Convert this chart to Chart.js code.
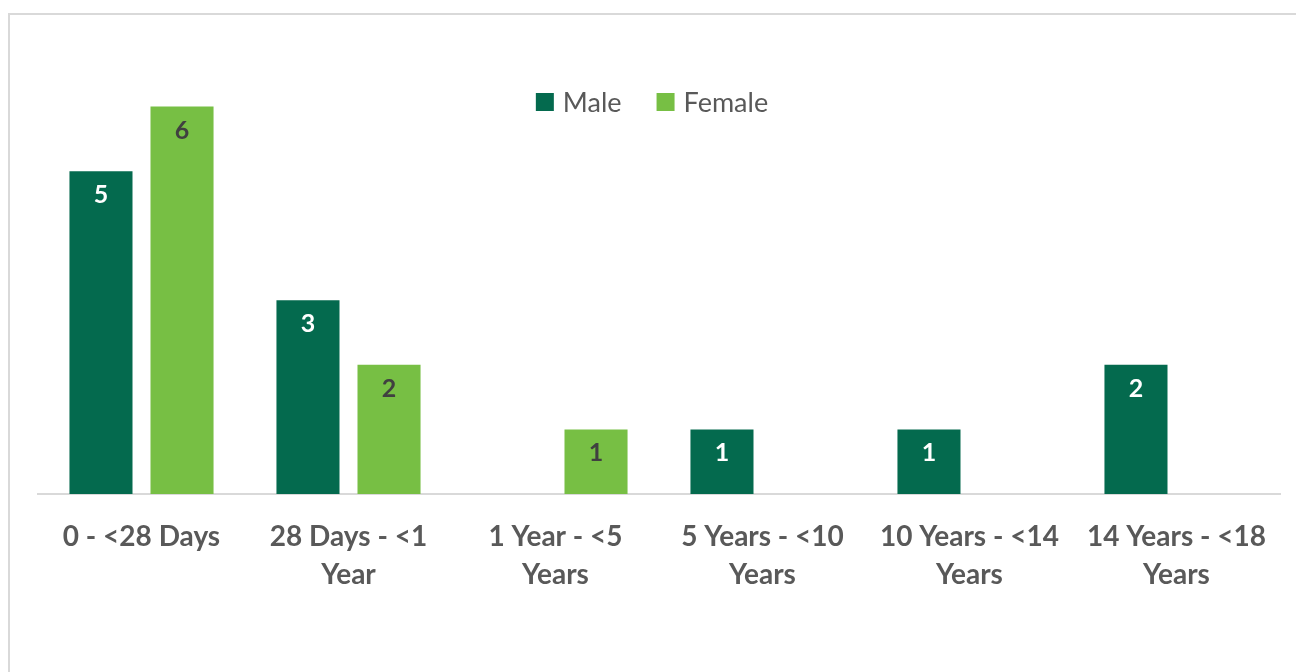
<!DOCTYPE html>
<html>
<head>
<meta charset="utf-8">
<script src="https://cdn.jsdelivr.net/npm/chart.js@4/dist/chart.umd.min.js"></script>
<style>
  body { margin: 0; background: #fff; overflow: hidden; }
  #frame { position: absolute; left: 8px; top: 13px; width: 1400px; height: 800px; border: 2px solid #d9d9d9; }
  #wrap { position: absolute; left: 0; top: 0; width: 1296px; height: 672px; }
</style>
</head>
<body>
<div id="frame"></div>
<div id="wrap"><canvas id="ageChart" width="1296" height="672"></canvas></div>
<script>
const categories = [
    ["0 - <28 Days"],
    ["28 Days - <1", "Year"],
    ["1 Year - <5", "Years"],
    ["5 Years - <10", "Years"],
    ["10 Years - <14", "Years"],
    ["14 Years - <18", "Years"],
];
const maleValues = [5, 3, 0, 1, 1, 2];
const femaleValues = [6, 2, 1, 0, 0, 0];

const MALE_COLOR = "#046A4E";
const FEMALE_COLOR = "#77BF44";
const TEXT_GREY = "#595959";

// value labels inside the top of each bar
const barLabels = {
    id: "barLabels",
    afterDatasetsDraw(chart) {
        const ctx = chart.ctx;
        ctx.save();
        ctx.font = "bold 25px Lato";
        ctx.textAlign = "center";
        ctx.textBaseline = "middle";
        chart.data.datasets.forEach((ds, i) => {
            const meta = chart.getDatasetMeta(i);
            meta.data.forEach((bar, j) => {
                const v = ds.data[j];
                if (!v) return;
                ctx.fillStyle = ds.labelColor;
                ctx.fillText(String(v), bar.x, bar.y + 24);
            });
        });
        ctx.restore();
    },
};

// legend drawn over the plot, like the original
const overlayLegend = {
    id: "overlayLegend",
    afterDraw(chart) {
        const ctx = chart.ctx;
        const box = 18, gap = 9, spacing = 35, cy = 102;
        ctx.save();
        ctx.font = "27px Lato";
        ctx.textBaseline = "middle";
        const items = chart.data.datasets.map((ds) => ({
            text: ds.label,
            color: ds.backgroundColor,
            w: box + gap + ctx.measureText(ds.label).width,
        }));
        const total = items.reduce((s, it) => s + it.w, 0) + spacing * (items.length - 1);
        let x = chart.width / 2 + 4 - total / 2;
        items.forEach((it) => {
            ctx.fillStyle = it.color;
            ctx.fillRect(x, cy - box / 2, box, box);
            ctx.fillStyle = TEXT_GREY;
            ctx.fillText(it.text, x + box + gap, cy + 1);
            x += it.w + spacing;
        });
        ctx.restore();
    },
};

const ctx = document.getElementById("ageChart").getContext("2d");
const chart = new Chart(ctx, {
    type: "bar",
    data: {
        labels: categories,
        datasets: [
            {
                label: "Male",
                data: maleValues,
                backgroundColor: MALE_COLOR,
                labelColor: "#ffffff",
            },
            {
                label: "Female",
                data: femaleValues,
                backgroundColor: FEMALE_COLOR,
                labelColor: "#404040",
            },
        ],
    },
    options: {
        responsive: false,
        animation: false,
        categoryPercentage: 0.783,
        barPercentage: 0.778,
        layout: {
            padding: { left: 38, right: 16, top: 42, bottom: 0 },
        },
        scales: {
            y: {
                display: false,
                min: 0,
                max: 7,
            },
            x: {
                grid: { display: false, drawTicks: false },
                border: { display: true, color: "#d9d9d9", width: 2 },
                ticks: {
                    maxRotation: 0,
                    autoSkip: false,
                    padding: 24,
                    color: TEXT_GREY,
                    font: { family: "Lato", weight: "bold", size: 28, lineHeight: "38px" },
                },
                afterFit(scale) {
                    scale.height = 178;
                },
            },
        },
        plugins: {
            legend: { display: false },
            tooltip: { enabled: false },
        },
    },
    plugins: [barLabels, overlayLegend],
});
</script>
</body>
</html>
